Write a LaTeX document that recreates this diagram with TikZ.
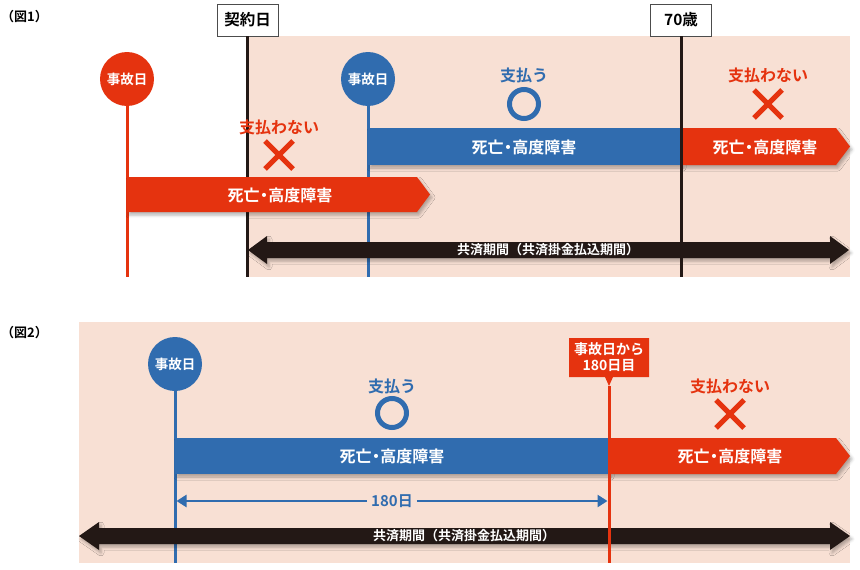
\documentclass[tikz,border=0pt]{standalone}
\usepackage{fontspec}
\setmainfont{Noto Sans CJK JP}[BoldFont={Noto Sans CJK JP Bold}]
\usetikzlibrary{arrows.meta,shapes.misc,shapes.callouts,shadows.blur}
\definecolor{accred}{HTML}{E5330F}
\definecolor{accblue}{HTML}{306CAF}
\definecolor{bgpink}{HTML}{F8E0D4}
\definecolor{barblack}{HTML}{231815}
\newcommand{\injury}{死亡\kern-0.22em・\kern-0.22em高度障害}

\begin{document}
\begin{tikzpicture}[x=1pt,y=-1pt,
    font=\bfseries,
    daycircle/.style={circle,inner sep=0pt,minimum size=54pt,text=white,font=\bfseries\fontsize{13.5}{13.5}\selectfont},
    datebox/.style={draw=black!70,fill=white,line width=0.7pt,minimum width=61pt,minimum height=32pt,inner sep=0pt,font=\bfseries\fontsize{15.5}{15.5}\selectfont},
    bartext/.style={text=white,font=\bfseries\fontsize{16}{16}\selectfont},
    paylabel/.style={font=\bfseries\fontsize{16}{16}\selectfont},
    okmark/.style={circle,draw=accblue,line width=5pt,minimum size=29pt,inner sep=0pt},
    ngmark/.style={cross out,draw=accred,line width=5pt,minimum size=23pt,inner sep=0pt},
    periodtext/.style={text=white,font=\bfseries\fontsize{13}{13}\selectfont},
    figtitle/.style={anchor=west,inner sep=0pt,font=\bfseries\fontsize{13}{13}\selectfont},
    barshadow/.style={blur shadow={shadow xshift=2pt,shadow yshift=-3pt,shadow blur radius=3pt,shadow opacity=30}},
  ]
  \useasboundingbox (0,0) rectangle (860,570);

  % (図1)
  \node[figtitle] (fig1) at (1,17) {（図1）};
  \fill[bgpink] (247,36) rectangle (850,277);

  \node[datebox] (contract) at (247.5,20) {契約日};
  \node[datebox] (age70) at (681,20) {70歳};
  \node[daycircle,fill=accred] (acc1) at (127,79) {事故日};
  \node[daycircle,fill=accblue] (acc2) at (368,79) {事故日};
  \coordinate (contractend) at (247.5,277);
  \coordinate (age70end) at (681,277);
  \coordinate (acc1end) at (127,277);
  \coordinate (acc2end) at (368,277);

  \draw[barblack,line width=3pt] (contract.south) -- (contractend);
  \draw[accred,line width=3pt] (acc1.south) -- (acc1end);
  \draw[accblue,line width=3pt] (acc2.south) -- (acc2end);

  \fill[accred,barshadow] (127,177) -- (417,177) -- (430,194.5) -- (417,212) -- (127,212) -- cycle;
  \node[bartext] (bar1) at (280,195) {\injury};
  \fill[accblue,barshadow] (368,128) rectangle (681,165);
  \node[bartext] (bar2) at (524,147) {\injury};
  \fill[accred,barshadow] (681,128) -- (836,128) -- (850,146.5) -- (836,165) -- (681,165) -- cycle;
  \node[bartext] (bar3) at (765,147) {\injury};

  \node[paylabel,text=accred] (nopay1) at (279,127) {支払わない};
  \node[ngmark] (ng1) at (279,155) {};
  \node[paylabel,text=accblue] (pay1) at (524,75) {支払う};
  \node[okmark] (ok1) at (524,104) {};
  \node[paylabel,text=accred] (nopay2) at (768,75) {支払わない};
  \node[ngmark] (ng2) at (768,104) {};

  \fill[barblack,barshadow] (248,250) -- (267,236) -- (267,242) -- (830,242) -- (830,236) -- (849,250)
    -- (830,264) -- (830,258) -- (267,258) -- (267,264) -- cycle;
  \node[periodtext] (period1) at (548,250) {共済期間（共済掛金払込期間）};
  \draw[barblack,line width=3pt] (age70.south) -- (age70end);

  % (図2)
  \node[figtitle] (fig2) at (1,333) {（図2）};
  \fill[bgpink] (79,322) rectangle (850,563);

  \node[daycircle,fill=accblue] (acc3) at (175,364) {事故日};
  \node[rectangle callout,fill=accred,text=white,align=center,minimum width=80pt,minimum height=39pt,inner sep=0pt,
    callout absolute pointer={(609,386)},callout pointer width=8pt,
    font=\bfseries\fontsize{14}{16}\selectfont] (day180) at (609,357.5) {事故日から\\180日目};
  \coordinate (acc3end) at (175,563);
  \coordinate (day180tip) at (609,386);
  \coordinate (day180end) at (609,563);

  \draw[accblue,line width=3pt] (acc3.south) -- (acc3end);

  \fill[accblue,barshadow] (175,438) rectangle (609,474);
  \node[bartext] (bar4) at (392,456) {\injury};
  \fill[accred,barshadow] (609,438) -- (836,438) -- (850,456) -- (836,474) -- (609,474) -- cycle;
  \node[bartext] (bar5) at (730,456) {\injury};

  \node[paylabel,text=accblue] (pay2) at (392,386) {支払う};
  \node[okmark] (ok2) at (392,413) {};
  \node[paylabel,text=accred] (nopay3) at (730,386) {支払わない};
  \node[ngmark] (ng3) at (730,414) {};

  \node[text=accblue,fill=bgpink,inner xsep=4pt,font=\bfseries\fontsize{15}{15}\selectfont] (d180) at (392,501) {180日};
  \coordinate (d180left) at (176.5,501);
  \coordinate (d180right) at (607.5,501);
  \draw[accblue,line width=2.5pt,-{Triangle[length=10pt,width=12pt]}] (d180.west) -- (d180left);
  \draw[accblue,line width=2.5pt,-{Triangle[length=10pt,width=12pt]}] (d180.east) -- (d180right);

  \fill[barblack,barshadow] (79,536) -- (99,522) -- (99,528) -- (830,528) -- (830,522) -- (850,536)
    -- (830,550) -- (830,544) -- (99,544) -- (99,550) -- cycle;
  \node[periodtext] (period2) at (464,536) {共済期間（共済掛金払込期間）};
  \draw[accred,line width=3pt] (day180tip) -- (day180end);
\end{tikzpicture}
\end{document}
